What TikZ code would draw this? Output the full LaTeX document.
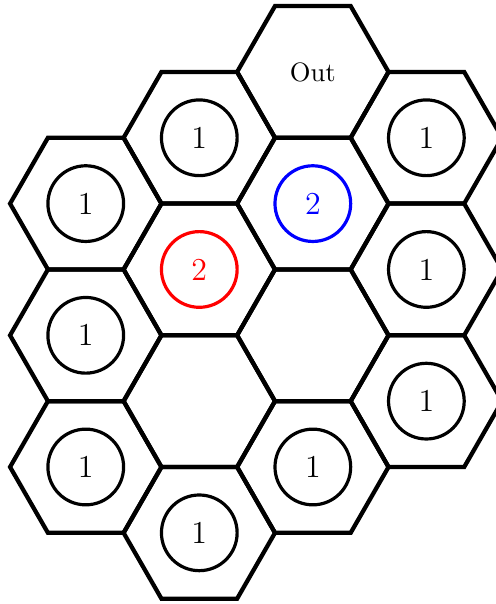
\documentclass[tikz,border=0pt]{standalone}
\usepackage{tikz}
\usetikzlibrary{positioning}

\begin{document}
\begin{tikzpicture}[x=1cm, y=1.0045cm,
    hexcell/.style={ultra thick},
    token/.style={circle, draw, very thick, minimum size=1cm, font=\large}]
    \useasboundingbox (-1.133,-5.266) rectangle (5.419,2.678);

    % hex centres (column, half-row)
    \foreach \c/\k/\n in {0/0/a1, 0/-2/a2, 0/-4/a3,
      1/1/b1, 1/-1/b2, 1/-3/b3, 1/-5/b4,
      2/2/c1, 2/0/c2, 2/-2/c3, 2/-4/c4,
      3/1/d1, 3/-1/d2, 3/-3/d3}
      \coordinate (\n) at (1.5*\c, 0.866*\k);

    % hexagons
    \foreach \n in {a1,a2,a3,b1,b2,b3,b4,c1,c2,c3,c4,d1,d2,d3}
      \draw[hexcell, shift={(\n)}] (0:1) -- (60:1) -- (120:1) -- (180:1)
      -- (240:1) -- (300:1) -- cycle;

    % tokens
    \foreach \n in {a1,a2,a3,b1,b4,c4,d1,d2,d3}
      \node[token] (t-\n) at (\n) {1};
    \node[token, red] (t-b2) at (b2) {2};
    \node[token, blue] (t-c2) at (c2) {2};

    % exit cell
    \node (out) at (c1) {Out};
\end{tikzpicture}
\end{document}
